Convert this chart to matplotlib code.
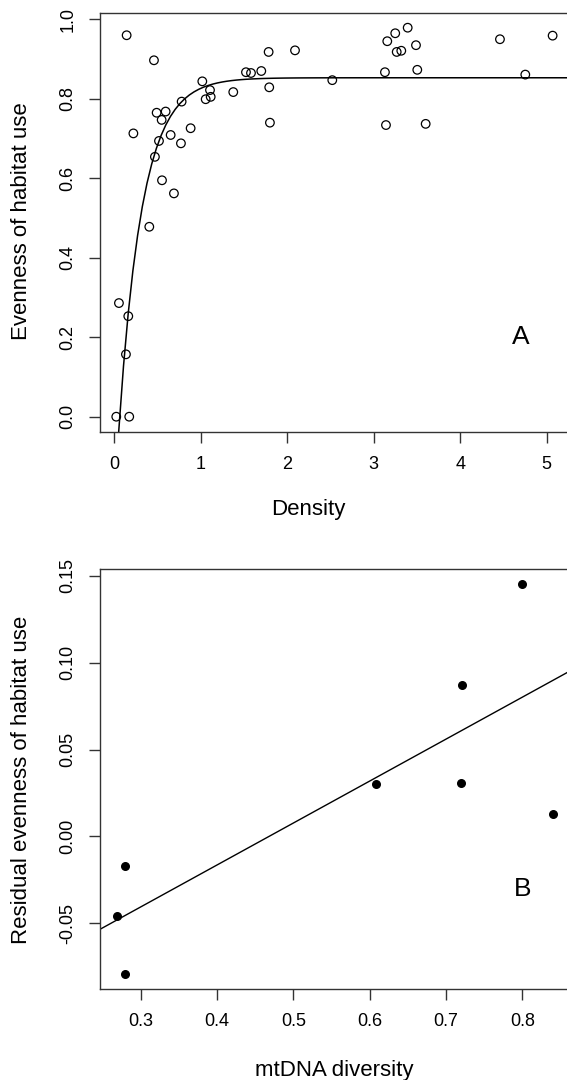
import numpy as np
import matplotlib
matplotlib.use("Agg")
import matplotlib.pyplot as plt

plt.rcParams['font.family'] = ['Liberation Sans', 'DejaVu Sans']

# panel A: density vs evenness of habitat use
density = [0.143, 0.459, 0.221, 0.490, 0.594, 0.548, 0.517, 0.470, 0.652, 0.771,
           0.883, 0.779, 0.552, 0.690, 0.405, 1.018, 1.057, 1.107, 1.115, 1.376,
           1.523, 1.581, 1.700, 1.785, 1.792, 1.800, 2.090, 2.521, 3.157, 3.249,
           3.393, 3.266, 3.319, 3.489, 3.130, 3.504, 3.142, 3.601, 4.460, 4.753,
           5.069, 0.054, 0.162, 0.135, 0.023, 0.173]
evenness = [0.960, 0.897, 0.713, 0.765, 0.768, 0.747, 0.694, 0.654, 0.709, 0.688,
            0.726, 0.793, 0.595, 0.562, 0.478, 0.844, 0.799, 0.822, 0.805, 0.817,
            0.867, 0.865, 0.870, 0.918, 0.829, 0.740, 0.922, 0.847, 0.945, 0.965,
            0.979, 0.918, 0.921, 0.935, 0.867, 0.873, 0.734, 0.737, 0.950, 0.861,
            0.959, 0.286, 0.253, 0.157, 0.000, 0.000]
# fitted asymptotic curve  y = a * (1 - exp(-b * (x - c)))
fit_a, fit_b, fit_c = 0.853, 3.7, 0.063

# panel B: mtDNA diversity vs residual evenness
mtdna = [0.800, 0.721, 0.609, 0.720, 0.280, 0.269, 0.279, 0.840]
resid = [0.145, 0.087, 0.030, 0.031, -0.017, -0.046, -0.079, 0.013]
# regression line
reg_int, reg_slope = -0.113, 0.2414

W, H = 567, 1080
fig = plt.figure(figsize=(W / 100, H / 100), dpi=100)

def px_axes(l, t, r, b):
    return fig.add_axes([l / W, 1 - b / H, (r - l) / W, (b - t) / H])

def style(ax):
    for s in ax.spines.values():
        s.set_color('#333333')
        s.set_linewidth(1.0)
    ax.tick_params(direction='out', length=8, width=1.0, color='#333333',
                   labelsize=13, pad=9)
    ax.tick_params(axis='y', labelrotation=90)
    for lab in ax.get_yticklabels():
        lab.set_va('center')

# ---- A ----
axA = px_axes(100, 13, 570, 432)
axA.set_xlim(-0.165, 5.27)
axA.set_ylim(-0.0385, 1.016)
axA.scatter(density, evenness, s=38, facecolors='none', edgecolors='black',
            linewidths=0.9, zorder=3)
xs = np.linspace(-0.165, 5.27, 101)
axA.plot(xs, fit_a * (1 - np.exp(-fit_b * (xs - fit_c))), color='black', lw=1.1)
axA.set_xticks([0, 1, 2, 3, 4, 5])
axA.set_yticks([0.0, 0.2, 0.4, 0.6, 0.8, 1.0])
axA.set_yticklabels(['0.0', '0.2', '0.4', '0.6', '0.8', '1.0'])
style(axA)
axA.set_xlabel('Density', fontsize=16, va='center')
axA.xaxis.set_label_coords(0.443, -0.186)
axA.set_ylabel('Evenness of habitat use', fontsize=16, va='center')
axA.yaxis.set_label_coords(-0.168, 0.504)
axA.text(4.7, 0.2, 'A', fontsize=19, ha='center', va='center')

# ---- B ----
axB = px_axes(100, 569, 594, 989)
axB.set_xlim(0.2467, 0.894)
axB.set_ylim(-0.0878, 0.1539)
axB.scatter(mtdna, resid, s=30, color='black', zorder=3)
xb = np.array([0.2467, 0.894])
axB.plot(xb, reg_int + reg_slope * xb, color='black', lw=1.0)
axB.set_xticks([0.3, 0.4, 0.5, 0.6, 0.7, 0.8])
axB.set_xticklabels(['0.3', '0.4', '0.5', '0.6', '0.7', '0.8'])
axB.set_yticks([-0.05, 0.0, 0.05, 0.10, 0.15])
axB.set_yticklabels(['-0.05', '0.00', '0.05', '0.10', '0.15'])
style(axB)
axB.set_xlabel('mtDNA diversity', fontsize=16, va='center')
axB.xaxis.set_label_coords(0.474, -0.193)
axB.set_ylabel('Residual evenness of habitat use', fontsize=16, va='center')
axB.yaxis.set_label_coords(-0.158, 0.498)
axB.text(0.80, -0.03, 'B', fontsize=19, ha='center', va='center')

fig.savefig('out.png', dpi=100)
